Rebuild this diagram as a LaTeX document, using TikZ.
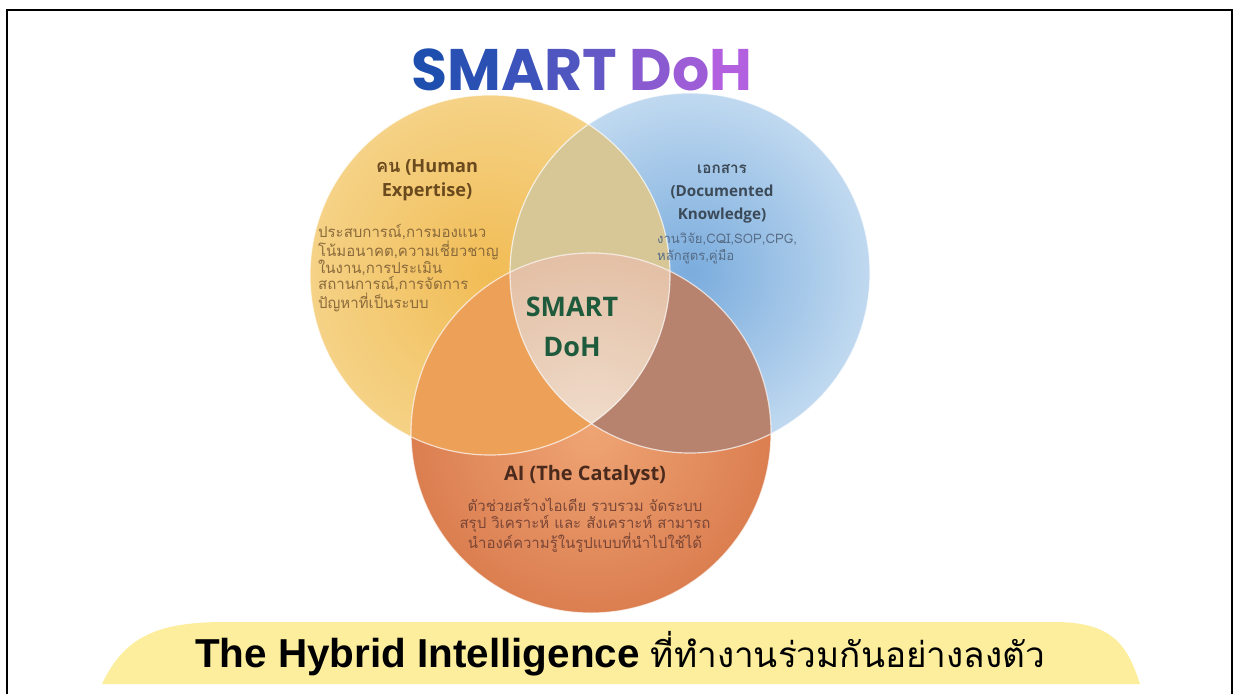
\documentclass[tikz,border=0pt]{standalone}
\usepackage{fontspec}
\setmainfont{Open Sans}
\newfontfamily\thaifont[Script=Thai]{Loma}
\newfontfamily\titlefont{Poppins}
\newfontfamily\bannerfont{Liberation Sans}
\usetikzlibrary{positioning}

\definecolor{humanin}{HTML}{F1BC55}
\definecolor{humanout}{HTML}{F5D286}
\definecolor{docin}{HTML}{7AACDD}
\definecolor{docout}{HTML}{C0D9F0}
\definecolor{aiin}{HTML}{EFA474}
\definecolor{aiout}{HTML}{DB7E50}
\definecolor{humandoc}{HTML}{D7C796}
\definecolor{humanai}{HTML}{ECA058}
\definecolor{docai}{HTML}{B7836F}
\definecolor{corein}{HTML}{F0DDCC}
\definecolor{coreout}{HTML}{E3C0A6}
\definecolor{humanhead}{HTML}{6B4A1E}
\definecolor{humanbody}{HTML}{8A6A3C}
\definecolor{dochead}{HTML}{3C4A58}
\definecolor{docbody}{HTML}{566C86}
\definecolor{aihead}{HTML}{4A2A1C}
\definecolor{aibody}{HTML}{7A4636}
\definecolor{coregreen}{HTML}{1E5A3C}
\definecolor{bannerfill}{HTML}{FCEE9C}
\definecolor{ta}{HTML}{1E4FAE}
\definecolor{tb}{HTML}{2A50B4}
\definecolor{tc}{HTML}{3B53BA}
\definecolor{td}{HTML}{4F56C0}
\definecolor{te}{HTML}{6358C6}
\definecolor{tf}{HTML}{8A5BD0}
\definecolor{tg}{HTML}{9D5DD7}
\definecolor{th}{HTML}{B260DF}

\begin{document}
\begin{tikzpicture}[x=0.03cm, y=-0.03cm,
    head/.style={align=center, font=\bfseries\fontsize{13}{19.5}\selectfont},
    body/.style={align=left, font=\thaifont\fontsize{12.8}{14.5}\selectfont},
    rim/.style={draw=white, draw opacity=0.7, line width=1pt}]
    \useasboundingbox (0,0) rectangle (1234,693);
    \draw[line width=2.5pt] (7,700) -- (7,10) -- (1232,10) -- (1232,700);

    \coordinate (hc) at (490,275);
    \coordinate (dc) at (690,273);
    \coordinate (ac) at (591,433);

    \shade[inner color=humanin, outer color=humanout] (hc) circle (5.4cm);
    \shade[inner color=docin, outer color=docout] (dc) circle (5.4cm);
    \shade[inner color=aiin, outer color=aiout] (ac) circle (5.4cm);
    \begin{scope}
        \clip (hc) circle (5.4cm);
        \fill[humandoc] (dc) circle (5.4cm);
        \fill[humanai] (ac) circle (5.4cm);
    \end{scope}
    \begin{scope}
        \clip (dc) circle (5.4cm);
        \fill[docai] (ac) circle (5.4cm);
        \clip (hc) circle (5.4cm);
        \shade[inner color=corein, outer color=coreout] (ac) circle (5.4cm);
    \end{scope}
    \draw[rim] (hc) circle (5.4cm) (dc) circle (5.4cm) (ac) circle (5.4cm);

    \node[font=\titlefont\bfseries\fontsize{50}{50}\selectfont] (title) at (582,70)
        {\textcolor{ta}{S}\textcolor{tb}{M}\textcolor{tc}{A}\textcolor{td}{R}\textcolor{te}{T} \textcolor{tf}{D}\textcolor{tg}{o}\textcolor{th}{H}};

    \node[head, text=humanhead, font=\bfseries\fontsize{15.5}{20}\selectfont] (hhead) at (427,180) {{\thaifont คน} (Human\\Expertise)};
    \node[body, text=humanbody, anchor=north west] (hbody) at (314,220)
        {ประสบการณ์,การมองแนว\\โน้มอนาคต,ความเชี่ยวชาญ\\ในงาน,การประเมิน\\สถานการณ์,การจัดการ\\ปัญหาที่เป็นระบบ};

    \node[head, text=dochead] (dhead) at (722,194) {{\thaifont เอกสาร}\\(Documented\\Knowledge)};
    \node[body, text=docbody, anchor=north west, font=\thaifont\fontsize{11.2}{14.5}\selectfont] (dbody) at (653,229) {งานวิจัย,CQI,SOP,CPG,\\หลักสูตร,คู่มือ};

    \node[align=center, text=coregreen, font=\bfseries\fontsize{23}{34}\selectfont] (core) at (572,327) {SMART\\DoH};

    \node[head, text=aihead, font=\bfseries\fontsize{17}{20}\selectfont] (ahead) at (585,475) {AI (The Catalyst)};
    \node[body, align=center, text=aibody, below=4pt of ahead] (abody)
        {ตัวช่วยสร้างไอเดีย รวบรวม จัดระบบ\\สรุป วิเคราะห์ และ สังเคราะห์ สามารถ\\นำองค์ความรู้ในรูปแบบที่นำไปใช้ได้};

    \fill[bannerfill] (102,684) .. controls (125,635) and (160,622) .. (225,622) -- (1055,622)
        .. controls (1115,622) and (1128,648) .. (1140,684) -- cycle;
    \node (tagline) at (620,654)
        {{\bannerfont\bfseries\fontsize{34.5}{34.5}\selectfont The Hybrid Intelligence\ }{\thaifont\fontsize{30}{30}\selectfont ที่ทำงานร่วมกันอย่างลงตัว}};
\end{tikzpicture}
\end{document}
